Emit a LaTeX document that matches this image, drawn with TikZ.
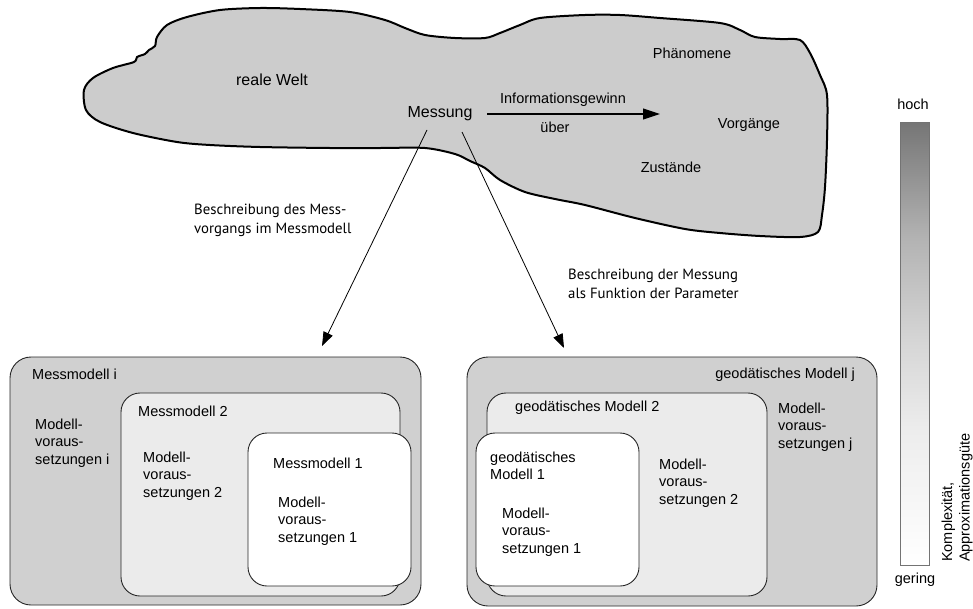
\documentclass[tikz,border=0pt]{standalone}
\usepackage{fontspec}
\setmainfont{Liberation Sans}
\newfontfamily\ptsans{PT Sans}
\usetikzlibrary{arrows.meta}
\definecolor{blobgray}{HTML}{CCCCCC}
\definecolor{boxgray}{HTML}{D0D0D0}
\definecolor{midgray}{HTML}{EBEBEB}
\pgfdeclareverticalshading{bargrad}{100bp}{color(0bp)=(white); color(25bp)=(white); color(40bp)=(black!7); color(50bp)=(black!16); color(62bp)=(black!30); color(75bp)=(black!54); color(100bp)=(black!54)}
\begin{document}
\begin{tikzpicture}[x=1pt,y=-1pt,
  txt/.style={inner sep=0pt, font=\fontsize{14.5}{17.5}\selectfont, align=left},
  bigtxt/.style={inner sep=0pt, font=\fontsize{16}{19}\selectfont},
  desc/.style={inner sep=0pt, font=\ptsans\fontsize{14.8}{19}\selectfont, align=left},
  boxline/.style={draw=black!85, line width=0.9pt, rounded corners=21pt},
  conn/.style={line width=0.8pt, -{Triangle[length=14pt,width=10pt]}},
  info/.style={line width=1.1pt, -{Triangle[length=17pt,width=11pt]}}]
\useasboundingbox (0,0) rectangle (973,608);

% real world blob
\draw[line width=2pt, fill=blobgray, line join=round] plot[smooth cycle, tension=0.5] coordinates {
(167,25) (187,17) (220,10) (260,8) (300,9) (350,12) (385,20) (405,28) (425,35) (455,38) (485,38) (500,33) (520,25) (540,18) (585,15) (620,15) (660,18) (720,23) (740,30) (755,37) (780,39) (800,40) (810,53) (820,75) (827,95) (827,140) (825,187) (822,215) (818,232) (800,237) (760,236) (720,233) (685,229) (635,218) (585,205) (555,199) (525,192) (500,180) (485,168) (470,161) (455,154) (425,148) (380,148) (330,148) (260,147) (210,145) (177,142) (133,133) (100,122) (86,110) (84,90) (93,78) (113,68) (134,62) (137,57) (145,54) (149,50) (155,46) (157,37)};

\node[bigtxt] (welt) at (272,80) {reale Welt};
\node[txt] (phaen) at (692,53) {Phänomene};
\node[txt] (vorg) at (749,125) {Vorgänge};
\node[txt] (zust) at (671,167) {Zustände};
\node[bigtxt] (mess) at (440,114) {Messung};
\node[txt] (infogain) at (563,100) {Informationsgewinn};
\node[txt] (ueber) at (555,127) {über};
\coordinate (infoS) at (487,114);
\coordinate (infoE) at (660,114);
\draw[info] (infoS) -- (infoE);

% description labels
\node[desc, anchor=west] (desc1) at (194,220) {Beschreibung des Mess-\\vorgangs im Messmodell};
\node[desc, anchor=west] (desc2) at (568,284) {Beschreibung der Messung\\als Funktion der Parameter};

% connectors
\coordinate (m1) at (427,130);
\coordinate (m2) at (462,132);
\coordinate (e1) at (322,346);
\coordinate (e2) at (564,348);
\draw[conn] (m1) -- (e1);
\draw[conn] (m2) -- (e2);

% left model boxes
\draw[boxline, fill=boxgray] (10,357) rectangle (421,605);
\draw[boxline, fill=midgray, rounded corners=19pt] (121,393) rectangle (400,596);
\draw[boxline, fill=white, rounded corners=19pt] (248,433) rectangle (411,586);
\node[txt, anchor=west] (mi) at (32,374) {Messmodell i};
\node[txt, anchor=west] (vi) at (35,443) {Modell-\\voraus-\\setzungen i};
\node[txt, anchor=west] (m2t) at (138,411) {Messmodell 2};
\node[txt, anchor=west] (v2) at (143,476) {Modell-\\voraus-\\setzungen 2};
\node[txt, anchor=west] (m1t) at (273,463) {Messmodell 1};
\node[txt, anchor=west] (v1) at (278,521) {Modell-\\voraus-\\setzungen 1};

% right model boxes
\draw[boxline, fill=boxgray] (467,357) rectangle (877,606);
\draw[boxline, fill=midgray, rounded corners=19pt] (487,393) rectangle (767,596);
\draw[boxline, fill=white, rounded corners=19pt] (476,433) rectangle (639,586);
\node[txt, anchor=east] (gj) at (855,375) {geodätisches Modell j};
\node[txt, anchor=west] (vj) at (778,427) {Modell-\\voraus-\\setzungen j};
\node[txt, anchor=west] (g2) at (515,408) {geodätisches Modell 2};
\node[txt, anchor=west] (vg2) at (659,483) {Modell-\\voraus-\\setzungen 2};
\node[txt, anchor=west] (g1) at (490,466) {geodätisches\\Modell 1};
\node[txt, anchor=west] (vg1) at (502,532) {Modell-\\voraus-\\setzungen 1};

% gradient bar
\shade[shading=bargrad] (900,122) rectangle (929,565);
\draw[black!55, line width=0.8pt] (900,122) rectangle (929,565);
\node[txt] (hoch) at (913,104) {hoch};
\node[txt] (gering) at (915,580) {gering};
\node[txt, rotate=90, anchor=west] (kompl) at (957,562) {Komplexität,\\Approximationsgüte};
\end{tikzpicture}
\end{document}
